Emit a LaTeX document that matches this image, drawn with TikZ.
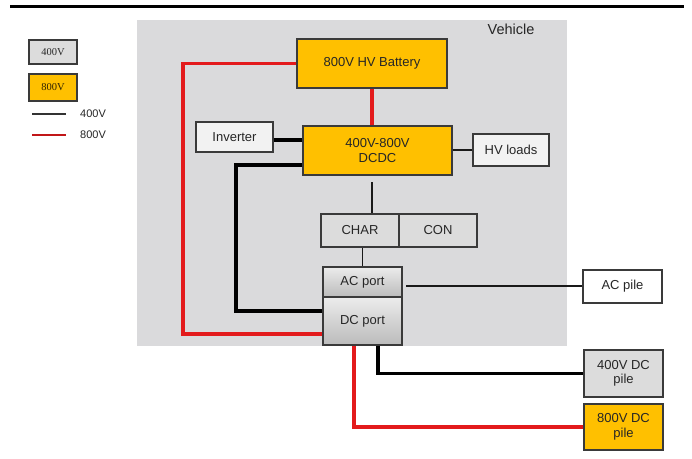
\documentclass[tikz,border=0pt]{standalone}
\usepackage{fontspec}
\setmainfont{Liberation Sans}
\newfontfamily\legserif{Liberation Serif}
\usetikzlibrary{shadows}
\definecolor{bggray}{HTML}{DADADC}
\definecolor{boxgray}{HTML}{DCDCDC}
\definecolor{gold}{HTML}{FFC000}
\definecolor{wire}{HTML}{E31A1C}
\definecolor{edge}{HTML}{3A3A3A}
\tikzset{
  blk/.style={draw=edge, line width=1.3pt, inner sep=0pt, align=center,
    font=\fontsize{13}{14.5}\selectfont, text=black!85,
    drop shadow={shadow xshift=1.2pt, shadow yshift=-1.2pt, opacity=0.25, fill=black}},
  orangebox/.style={blk, fill=gold},
  graybox/.style={blk, top color=boxgray!55!white, bottom color=boxgray!85!black},
  flatgray/.style={blk, fill=boxgray},
  whitebox/.style={blk, fill=white!95!black},
  redwire/.style={draw=wire, line width=3.6pt},
  blackwire/.style={draw=black, line width=3.6pt},
  thinwire/.style={draw=black!90, line width=1.8pt},
  legtext/.style={anchor=west, inner sep=0pt, font=\fontsize{11}{13}\selectfont, text=black!85},
}
\begin{document}
\begin{tikzpicture}[x=1pt,y=-1pt]
\useasboundingbox (0,0) rectangle (692,458);
\fill[white] (0,0) rectangle (692,458);
% top rule
\draw[line width=2.6pt] (10,6.5) -- (684,6.5);
% vehicle background
\fill[bggray] (137,20) rectangle (567,346);
\node[font=\fontsize{14.5}{16}\selectfont, text=black!85] (veh) at (511,29) {Vehicle};

% legend
\node[flatgray, minimum width=48pt, minimum height=24pt, font=\legserif\fontsize{10.5}{12}\selectfont, drop shadow={opacity=0}] (leg4) at (53,52) {400V};
\node[orangebox, minimum width=48pt, minimum height=27pt, font=\legserif\fontsize{10.5}{12}\selectfont, text=black!70!gold!60!black, drop shadow={opacity=0}] (leg8) at (53,87.5) {800V};
\coordinate (l4a) at (32,114);
\coordinate (l4b) at (66,114);
\coordinate (l8a) at (32,135);
\coordinate (l8b) at (66,135);
\draw[line width=1.4pt, black!80] (l4a) -- (l4b);
\draw[line width=1.4pt, wire!85!black] (l8a) -- (l8b);
\node[legtext] (l4t) at (80,114) {400V};
\node[legtext] (l8t) at (80,135) {800V};

% blocks
\node[orangebox, minimum width=150pt, minimum height=49pt] (batt) at (372,63.5) {800V HV Battery};
\node[orangebox, minimum width=149pt, minimum height=49pt] (dcdc) at (377.5,150.5) {400V-800V\\DCDC};
\node[whitebox, minimum width=77pt, minimum height=30pt] (inv) at (234.5,137) {Inverter};
\node[whitebox, minimum width=76pt, minimum height=32pt] (hvl) at (511,150) {HV loads};
\node[flatgray, minimum width=78pt, minimum height=33pt] (char) at (360,230.5) {CHAR};
\node[flatgray, minimum width=78pt, minimum height=33pt] (con) at (438,230.5) {CON};
\node[graybox, minimum width=79pt, minimum height=30pt] (acp) at (362.5,282) {AC port};
\node[graybox, minimum width=79pt, minimum height=48pt] (dcp) at (362.5,321) {DC port};
\node[whitebox, fill=white, minimum width=79pt, minimum height=33pt] (acpile) at (622.5,286.5) {AC pile};
\node[flatgray, minimum width=79pt, minimum height=47pt] (dc4) at (623.5,373.5) {400V DC\\pile};
\node[orangebox, minimum width=79pt, minimum height=46pt] (dc8) at (623.5,427) {800V DC\\pile};

% helper coordinates
\coordinate (r1) at (183,334);
\coordinate (rb) at (372,0);
\coordinate (y140) at (0,140);
\coordinate (b1) at (236,165);
\coordinate (b2) at (236,311);
\coordinate (c1) at (372,182);
\coordinate (ac1) at (406,286);
\coordinate (r3) at (354,427);
\coordinate (b3) at (378,373.5);

% connectors
\draw[redwire] (batt.west) -| (r1) -- (dcp.west |- r1);
\draw[redwire] (batt.south -| rb) -- (dcdc.north -| rb);
\draw[blackwire] (inv.east |- y140) -- (dcdc.west |- y140);
\draw[blackwire] (dcdc.west |- b1) -- (b1) -- (b2) -- (dcp.west |- b2);
\draw[thinwire] (dcdc.east |- hvl.west) -- (hvl.west);
\draw[thinwire] (c1) -- (char.north -| c1);
\draw[thinwire] (acp.north |- char.south) -- (acp.north);
\draw[thinwire] (ac1) -- (acpile.west |- ac1);
\draw[redwire] (dcp.south -| r3) |- (dc8.west);
\draw[blackwire] (dcp.south -| b3) |- (dc4.west);
\end{tikzpicture}
\end{document}
